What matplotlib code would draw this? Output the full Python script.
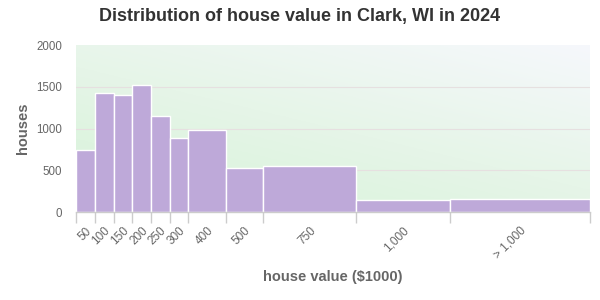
import numpy as np
import matplotlib
matplotlib.use("Agg")
import matplotlib.pyplot as plt
from matplotlib.colors import LinearSegmentedColormap

plt.rcParams['font.family'] = ['Liberation Sans', 'DejaVu Sans']

tick_labels = ["50", "100", "150", "200", "250", "300", "400", "500", "750", "1,000", "> 1,000"]
counts = [743, 1430, 1401, 1526, 1153, 888, 984, 534, 558, 148, 160]
rel_widths = [1, 1, 1, 1, 1, 1, 2, 2, 5, 5, 7.5]

edges = np.concatenate([[0], np.cumsum(rel_widths)])
lefts = edges[:-1]
centers = lefts + np.array(rel_widths) / 2

fig = plt.figure(figsize=(6, 3), dpi=100)
ax = fig.add_axes([76.2/600, 1 - 212.3/300, (589.6-76.2)/600, (212.3-45)/300])

# gradient background
n = 200
xx, yy = np.meshgrid(np.linspace(0, 1, n), np.linspace(0, 1, n))
t = np.clip(0.55 * xx + 0.75 * yy, 0, 1.3) / 1.3
cmap = LinearSegmentedColormap.from_list("bg", ["#d6f3d8", "#e6f5e8", "#f6f8fc"])
ax.imshow(t, cmap=cmap, origin="lower", extent=[0, 1, 0, 1], transform=ax.transAxes,
          aspect="auto", zorder=0, interpolation="bilinear")

ax.bar(lefts, counts, width=rel_widths, align="edge", color="#bea9d9",
       edgecolor="white", linewidth=1.0, zorder=2)

ax.set_xlim(edges[0], edges[-1])
ax.set_ylim(0, 2000)
ax.set_yticks([0, 500, 1000, 1500, 2000])
for yv in [500, 1000, 1500]:
    ax.axhline(yv, color="#e6e0e0", linewidth=0.8, zorder=1)

ax.set_xticks(edges)
ax.set_xticklabels([])
ax.set_xticks(centers, minor=True)
ax.set_xticklabels(tick_labels, minor=True, rotation=45, ha="right", va="top",
                   rotation_mode="anchor", fontsize=8.5, color="#666666")
ax.tick_params(axis="x", which="major", length=8, color="#cccccc", width=1)
ax.tick_params(axis="x", which="minor", length=0, pad=9)
ax.tick_params(axis="y", length=0, labelsize=8.3, labelcolor="#666666", pad=10)

for s in ["top", "right", "left"]:
    ax.spines[s].set_visible(False)
ax.spines["bottom"].set_color("#cccccc")
ax.spines["bottom"].set_linewidth(1)

fig.text(333/600, 1 - 277/300, "house value ($1000)", fontsize=10.5, fontweight="bold",
         color="#666666", ha="center", va="center")
fig.text(23/600, 1 - 128.5/300, "houses", fontsize=10.5, fontweight="bold",
         color="#666666", ha="center", va="center", rotation=90)

fig.text(0.5, 1 - 17/300, "Distribution of house value in Clark, WI in 2024", fontsize=13,
         fontweight="bold", color="#333333", ha="center", va="center")

fig.savefig("out.png", dpi=100, facecolor="white")
